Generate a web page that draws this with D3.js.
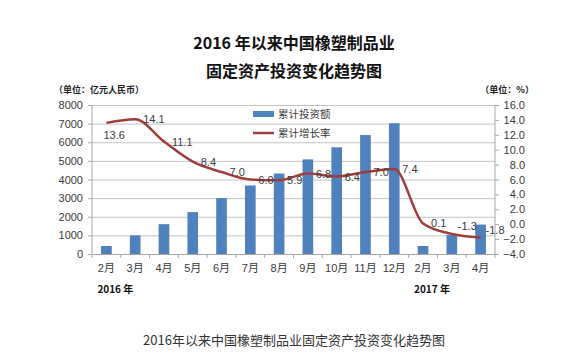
<!DOCTYPE html>
<html>
<head>
<meta charset="utf-8">
<script src="https://cdn.jsdelivr.net/npm/d3@7"></script>
<style>
    body { margin: 0; background: #fff; }
    text { font-family: "Liberation Sans", "Noto Sans CJK SC", sans-serif; }
    .cjk { font-family: "Noto Sans CJK SC", sans-serif; }
</style>
</head>
<body>
<svg id="chart" width="581" height="362"></svg>
<script>
// data
var months = ['2月', '3月', '4月', '5月', '6月', '7月', '8月', '9月', '10月', '11月', '12月', '2月', '3月', '4月'];
var investment = [430, 1000, 1600, 2250, 3000, 3680, 4320, 5080, 5730, 6390, 7020, 430, 1020, 1580];
var growth = [13.6, 14.1, 11.1, 8.4, 7.0, 6.0, 5.9, 6.8, 6.4, 7.0, 7.4, 0.1, -1.3, -1.8];
var growthLabels = ['13.6', '14.1', '11.1', '8.4', '7.0', '6.0', '5.9', '6.8', '6.4', '7.0', '7.4', '0.1', '-1.3', '-1.8'];
var labelPlace = ['below', 'right', 'right', 'right', 'right', 'right', 'right', 'right', 'right', 'right', 'right', 'right', 'upright', 'upright'];
var leftTicks = [0, 1000, 2000, 3000, 4000, 5000, 6000, 7000, 8000];
var rightTicks = [-4, -2, 0, 2, 4, 6, 8, 10, 12, 14, 16];
var years = ['2016 年', '2017 年'];
var yearStart = [0, 11];
var legendNames = ['累计投资额', '累计增长率'];

var svg = d3.select('#chart');
var margin = {top: 105, right: 86, bottom: 108, left: 92};
var w = +svg.attr('width');
var h = +svg.attr('height');
var barColor = '#4f81bd';
var lineColor = '#a03c3c';
var textColor = '#3a3a3a';

var xScale = d3.scaleBand()
    .domain(d3.range(months.length))
    .range([margin.left, w - margin.right])
    .paddingInner(0.63)
    .paddingOuter(0.315);

var yLeft = d3.scaleLinear()
    .domain([0, 8000])
    .range([h - margin.bottom, margin.top]);

var yRight = d3.scaleLinear()
    .domain([-4, 16])
    .range([h - margin.bottom, margin.top]);

function cx(i) {
    return xScale(i) + xScale.bandwidth() / 2;
}

// titles
svg.append('text')
    .attr('class', 'cjk')
    .attr('x', 294).attr('y', 49)
    .attr('text-anchor', 'middle')
    .style('font-size', '16px').style('font-weight', 'bold').style('fill', '#111')
    .text('2016 年以来中国橡塑制品业');
svg.append('text')
    .attr('class', 'cjk')
    .attr('x', 294).attr('y', 77)
    .attr('text-anchor', 'middle')
    .style('font-size', '16px').style('font-weight', 'bold').style('fill', '#111')
    .text('固定资产投资变化趋势图');

svg.append('text')
    .attr('class', 'cjk')
    .attr('x', 54).attr('y', 93)
    .style('font-size', '9px').style('font-weight', 'bold').style('fill', '#222')
    .text('（单位：亿元人民币）');
svg.append('text')
    .attr('class', 'cjk')
    .attr('x', 534).attr('y', 93)
    .attr('text-anchor', 'end')
    .style('font-size', '9px').style('font-weight', 'bold').style('fill', '#222')
    .text('（单位：%）');

// gridlines
svg.append('g')
    .selectAll('line')
    .data(leftTicks.filter(function (d) { return d > 0; }))
    .enter().append('line')
    .attr('x1', margin.left).attr('x2', w - margin.right)
    .attr('y1', function (d) { return yLeft(d) + 0.5; })
    .attr('y2', function (d) { return yLeft(d) + 0.5; })
    .style('stroke', '#c4c4c4').style('stroke-width', 1);

// axes
var leftAxis = d3.axisLeft(yLeft).tickValues(leftTicks).tickSize(4).tickPadding(5)
    .tickFormat(d3.format('d'));
var rightAxis = d3.axisRight(yRight).tickValues(rightTicks).tickSize(4).tickPadding(4)
    .tickFormat(d3.format('.1f'));
var bottomAxis = d3.axisBottom(xScale).tickSize(0).tickPadding(10)
    .tickFormat(function (i) { return months[i]; });

var gl = svg.append('g')
    .attr('transform', 'translate(' + margin.left + ',0)')
    .call(leftAxis);
var gr = svg.append('g')
    .attr('transform', 'translate(' + (w - margin.right) + ',0)')
    .call(rightAxis);
gr.selectAll('.tick text').attr('text-anchor', 'end').attr('x', 30);
var gb = svg.append('g')
    .attr('transform', 'translate(0,' + (h - margin.bottom) + ')')
    .call(bottomAxis);

// category separator ticks on the x axis
gb.selectAll('line.sep')
    .data(d3.range(months.length + 1))
    .enter().append('line')
    .attr('class', 'sep')
    .attr('x1', function (i) { return margin.left + i * xScale.step(); })
    .attr('x2', function (i) { return margin.left + i * xScale.step(); })
    .attr('y1', 0).attr('y2', 4);

[gl, gr, gb].forEach(function (g) {
    g.select('.domain').style('stroke', '#a6a6a6');
    g.selectAll('line').style('stroke', '#a6a6a6');
    g.selectAll('text')
        .style('font-size', '11px')
        .style('fill', textColor)
        .style('font-family', '"Liberation Sans", "Noto Sans CJK SC", sans-serif');
});
gr.select('.domain').attr('d', 'M0,' + margin.top + 'V' + (h - margin.bottom));
gl.select('.domain').attr('d', 'M0,' + margin.top + 'V' + (h - margin.bottom));

// bars
svg.append('g')
    .selectAll('rect')
    .data(investment)
    .enter().append('rect')
    .attr('x', function (d, i) { return xScale(i); })
    .attr('y', function (d) { return yLeft(d); })
    .attr('width', xScale.bandwidth())
    .attr('height', function (d) { return yLeft(0) - yLeft(d); })
    .style('fill', barColor);

// growth line
var line = d3.line()
    .x(function (d, i) { return cx(i); })
    .y(function (d) { return yRight(d); })
    .curve(d3.curveMonotoneX);

svg.append('path')
    .datum(growth)
    .attr('d', line)
    .style('fill', 'none')
    .style('stroke', lineColor)
    .style('stroke-width', 2.5);

// data labels
svg.append('g')
    .selectAll('text')
    .data(growth)
    .enter().append('text')
    .attr('x', function (d, i) {
        if (labelPlace[i] === 'below') return cx(i) - 3;
        if (labelPlace[i] === 'upright') return cx(i) + (i === months.length - 1 ? 5 : 6);
        return cx(i) + 8;
    })
    .attr('y', function (d, i) {
        if (labelPlace[i] === 'below') return yRight(d) + 16;
        if (labelPlace[i] === 'upright') return yRight(d) - 4;
        return yRight(d) + 4;
    })
    .style('font-size', '11px')
    .style('fill', textColor)
    .text(function (d, i) { return growthLabels[i]; });

// year labels
svg.append('g')
    .selectAll('text')
    .data(years)
    .enter().append('text')
    .attr('class', 'cjk')
    .attr('x', function (d, i) { return cx(yearStart[i]) - 9; })
    .attr('y', 293)
    .style('font-size', '10px').style('font-weight', 'bold').style('fill', '#111')
    .text(function (d) { return d; });

// legend
var legend = svg.append('g').attr('transform', 'translate(253,114)');
legend.append('rect')
    .attr('x', 0).attr('y', -3).attr('width', 21).attr('height', 6)
    .style('fill', barColor);
legend.append('line')
    .attr('x1', 0).attr('x2', 21).attr('y1', 19).attr('y2', 19)
    .style('stroke', lineColor).style('stroke-width', 2.5);
legend.selectAll('text')
    .data(legendNames)
    .enter().append('text')
    .attr('class', 'cjk')
    .attr('x', 25)
    .attr('y', function (d, i) { return i * 19 + 4; })
    .style('font-size', '10.5px').style('fill', textColor)
    .text(function (d) { return d; });

// caption
svg.append('text')
    .attr('class', 'cjk')
    .attr('x', 294).attr('y', 345)
    .attr('text-anchor', 'middle')
    .style('font-size', '13px').style('fill', '#333')
    .text('2016年以来中国橡塑制品业固定资产投资变化趋势图');
</script>
</body>
</html>
